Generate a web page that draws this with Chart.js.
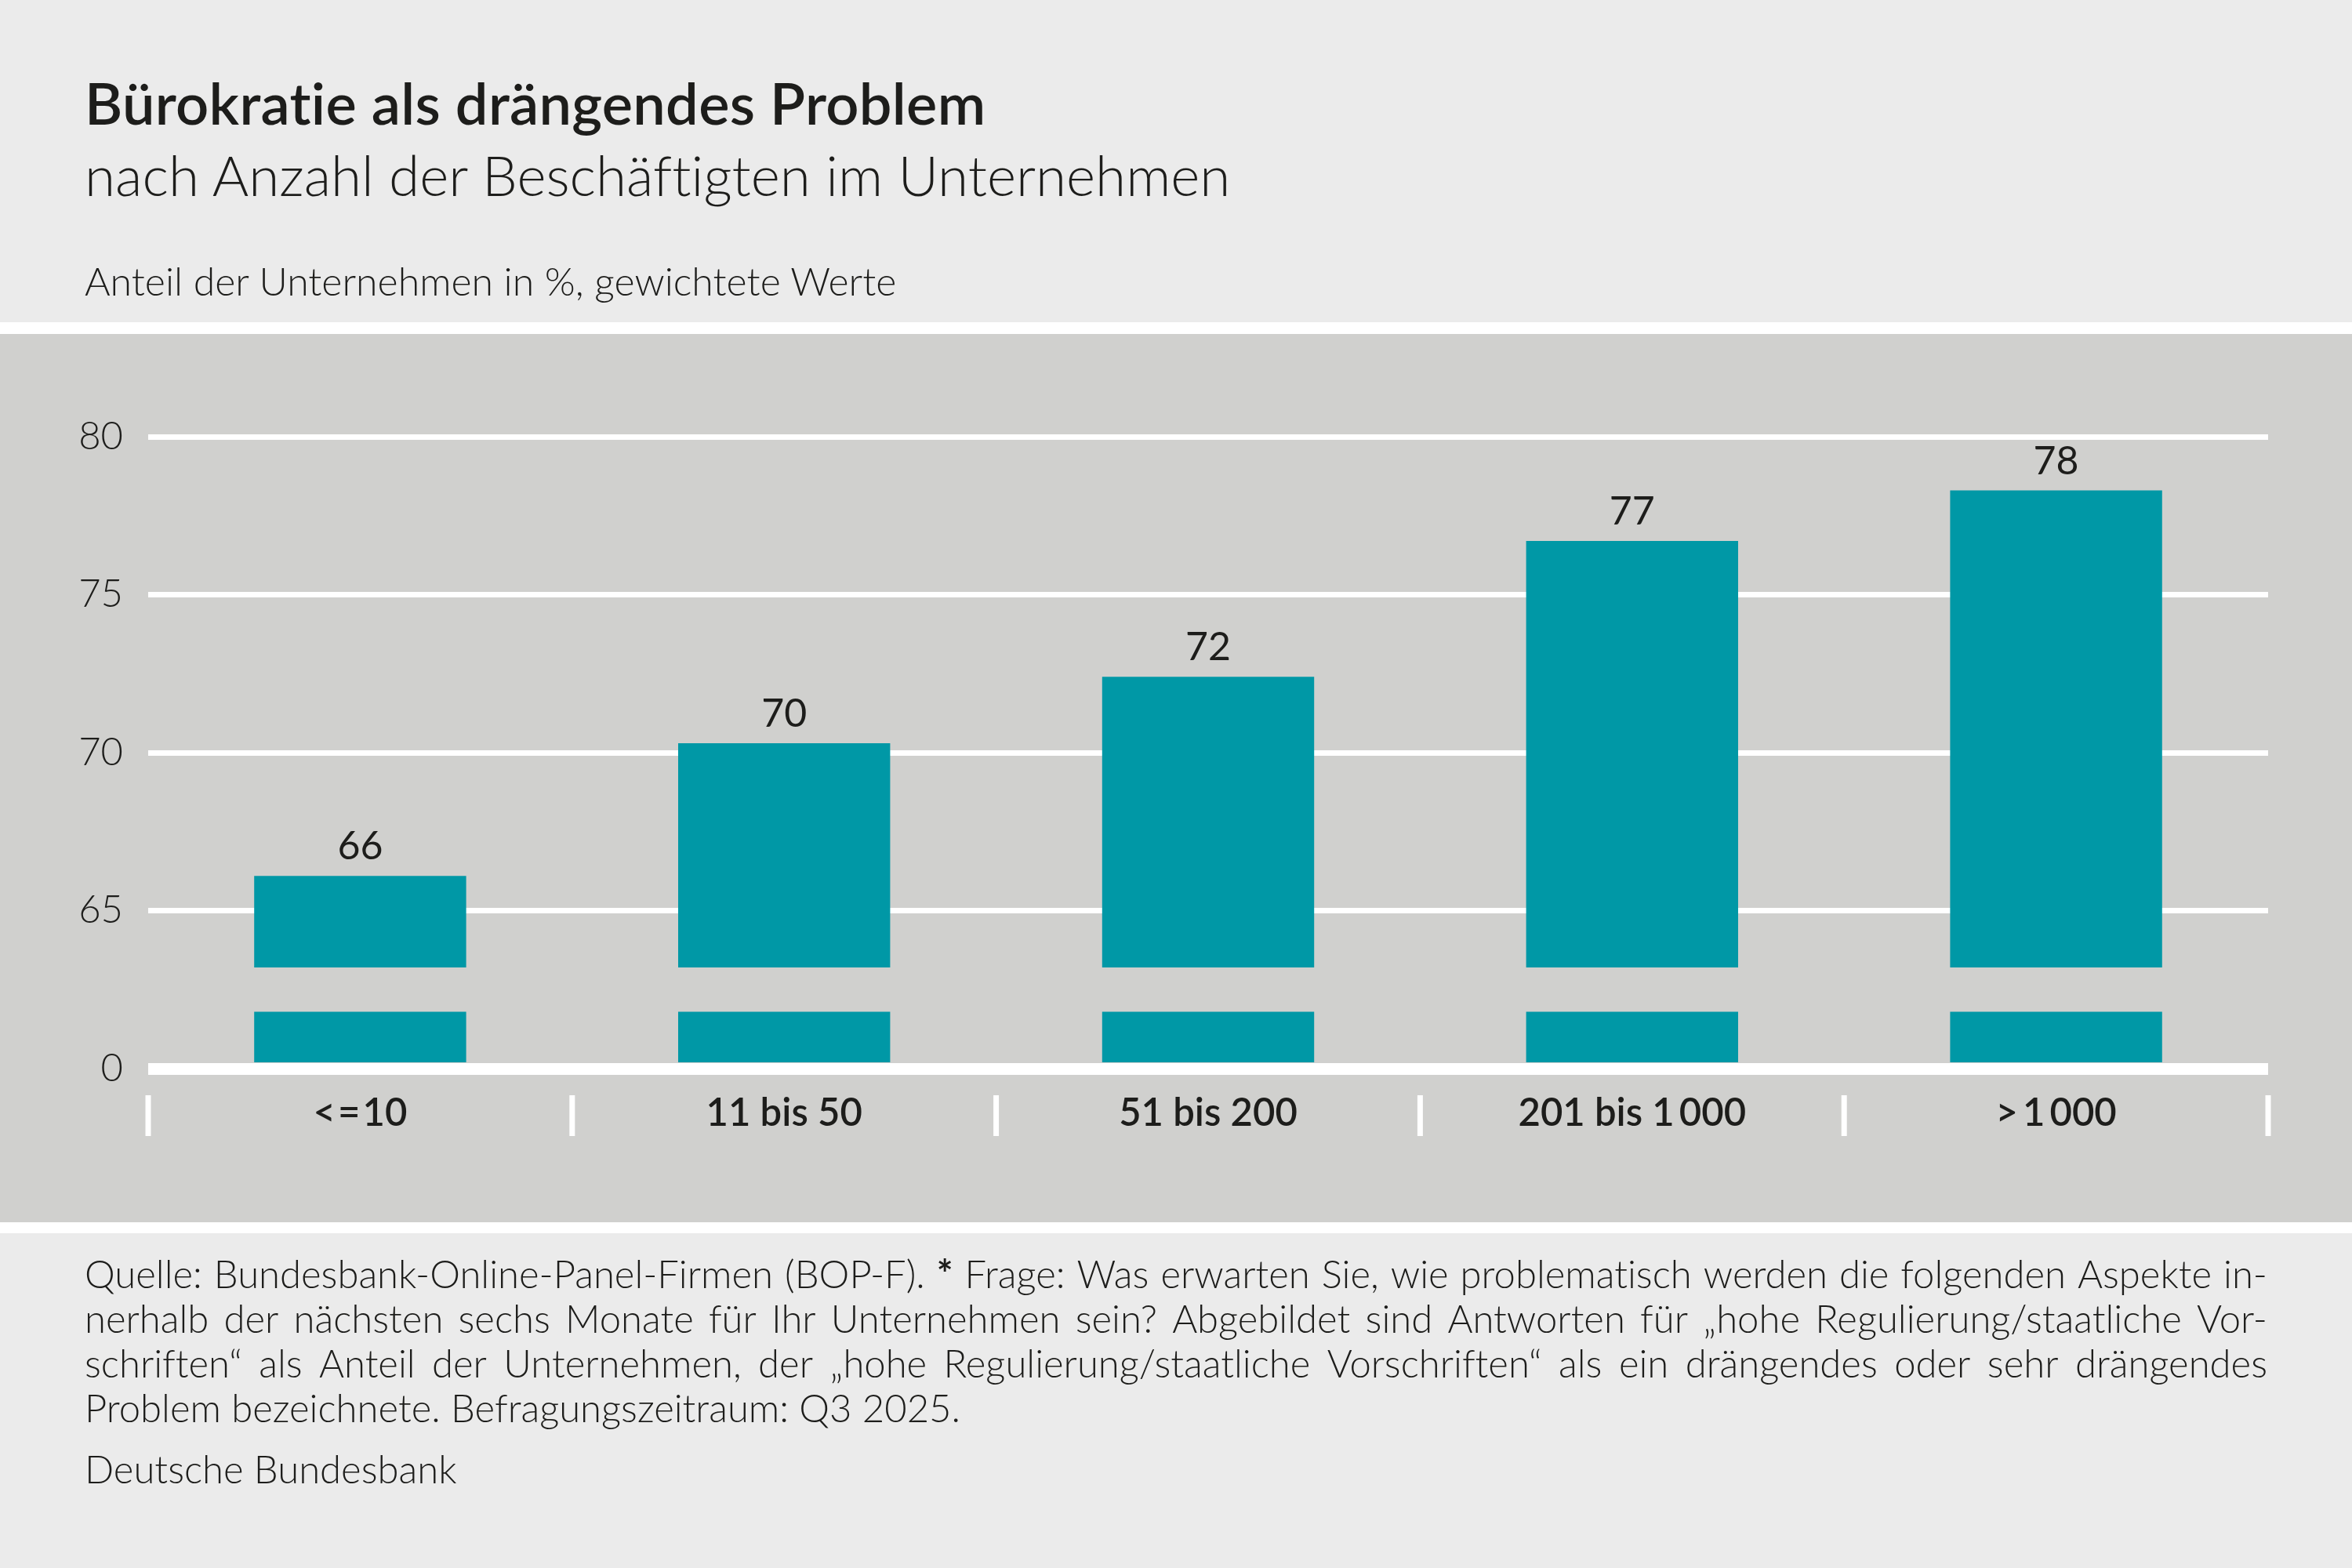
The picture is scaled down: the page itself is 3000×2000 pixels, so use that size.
<!DOCTYPE html>
<html lang="de">
<head>
<meta charset="utf-8">
<title>Bürokratie als drängendes Problem</title>
<script src="https://cdn.jsdelivr.net/npm/chart.js@4.4.1/dist/chart.umd.min.js"></script>
<style>
  html, body { margin: 0; padding: 0; }
  body {
    width: 3000px; height: 2000px; position: relative; overflow: hidden;
    background: #ebebeb; color: #1d1d1b;
    font-family: Lato, "Open Sans", sans-serif;
    font-variant-ligatures: none;
  }
  .txt { position: absolute; left: 108px; white-space: nowrap; line-height: 1; }
  #title { top: 94px; font-size: 74px; font-weight: 600; letter-spacing: 0.3px; }
  #subtitle { top: 187px; font-size: 71px; font-weight: 300; }
  #unit { top: 333px; font-size: 50px; font-weight: 300; }
  .band { position: absolute; left: 0; width: 3000px; background: #fff; }
  #panel { position: absolute; left: 0; top: 426px; width: 3000px; height: 1133px; background: #d0d0ce; }
  #notes { position: absolute; left: 108px; top: 1596px; width: 2784px; font-size: 49px; font-weight: 300; line-height: 57px; }
  #notes .line { display: flex; justify-content: space-between; white-space: nowrap; }
  #notes .last { white-space: nowrap; }
  #notes b { font-weight: 700; }
  #source { position: absolute; left: 108px; top: 1845px; font-size: 49px; font-weight: 300; line-height: 57px; white-space: nowrap; }
</style>
</head>
<body>
<div id="title" class="txt">Bürokratie als drängendes Problem</div>
<div id="subtitle" class="txt">nach Anzahl der Beschäftigten im Unternehmen</div>
<div id="unit" class="txt">Anteil der Unternehmen in %, gewichtete Werte</div>
<div class="band" style="top:411px;height:15px"></div>
<div id="panel"><canvas id="chart" width="3000" height="1133"></canvas></div>
<div class="band" style="top:1559px;height:14px"></div>
<div id="notes"></div>
<div id="source">Deutsche Bundesbank</div>

<script>
// categories and values (share of firms in %, weighted)
const categories = ['<\u200A=\u200A10', '11 bis 50', '51 bis 200', '201 bis 1\u2009000', '>\u20091\u2009000'];
const shares = [66.1, 70.3, 72.4, 76.7, 78.3];

// y axis is broken: 60 on the drawn scale stands for 0
const yTicks = [60, 65, 70, 75, 80];
const yTickLabels = ['0', '65', '70', '75', '80'];
const axisZero = 60;
const stubRange = [60.2, 61.8];
const breakTop = 63.2;

const noteLines = [
  'Quelle: Bundesbank-Online-Panel-Firmen (BOP-F). * Frage: Was erwarten Sie, wie problematisch werden die folgenden Aspekte in-',
  'nerhalb der nächsten sechs Monate für Ihr Unternehmen sein? Abgebildet sind Antworten für \u201Ehohe Regulierung/staatliche Vor-',
  'schriften\u201C als Anteil der Unternehmen, der \u201Ehohe Regulierung/staatliche Vorschriften\u201C als ein drängendes oder sehr drängendes',
  'Problem bezeichnete. Befragungszeitraum: Q3 2025.'
];

// footnote, justified line by line like the original
const notes = document.getElementById('notes');
noteLines.forEach((line, i) => {
  const div = document.createElement('div');
  if (i < noteLines.length - 1) {
    div.className = 'line';
    line.split(' ').forEach(word => {
      const el = document.createElement(word === '*' ? 'b' : 'span');
      el.textContent = word;
      div.appendChild(el);
    });
  } else {
    div.className = 'last';
    div.textContent = line;
  }
  notes.appendChild(div);
});

const textColor = '#1d1d1b';
const teal = '#0098a6';

const valueLabels = {
  id: 'valueLabels',
  afterDatasetsDraw(chart) {
    const ctx = chart.ctx;
    const meta = chart.getDatasetMeta(0);
    ctx.save();
    ctx.font = '400 50px Lato';
    ctx.fillStyle = textColor;
    ctx.textAlign = 'center';
    ctx.textBaseline = 'alphabetic';
    meta.data.forEach((bar, i) => {
      ctx.fillText(String(Math.round(shares[i])), bar.x, bar.y - 21);
    });
    ctx.restore();
  }
};

// small white separators between the categories
const catSeparators = {
  id: 'catSeparators',
  afterDraw(chart) {
    const x = chart.scales.x;
    const ctx = chart.ctx;
    const bottom = chart.chartArea.bottom;
    const step = x.width / categories.length;
    ctx.save();
    ctx.strokeStyle = '#ffffff';
    ctx.lineWidth = 7;
    for (let i = 0; i <= categories.length; i++) {
      const px = x.left + i * step;
      ctx.beginPath();
      ctx.moveTo(px, bottom + 34);
      ctx.lineTo(px, bottom + 86);
      ctx.stroke();
    }
    ctx.restore();
  }
};

const barStyle = {
  backgroundColor: teal,
  borderWidth: 0,
  grouped: false,
  barPercentage: 0.5,
  categoryPercentage: 1.0
};

new Chart(document.getElementById('chart'), {
  type: 'bar',
  data: {
    labels: categories,
    datasets: [
      Object.assign({ label: 'Anteil', data: shares.map(v => [breakTop, v]) }, barStyle),
      Object.assign({ label: 'Sockel', data: shares.map(() => stubRange.slice()) }, barStyle)
    ]
  },
  options: {
    responsive: false,
    devicePixelRatio: 1,
    animation: false,
    layout: { padding: { top: 131, right: 107, bottom: 0, left: 0 } },
    plugins: {
      legend: { display: false },
      tooltip: { enabled: false }
    },
    scales: {
      x: {
        afterFit: s => { s.height = 196; },
        border: { display: false },
        grid: { display: false, drawTicks: false },
        ticks: {
          padding: 28,
          autoSkip: false,
          maxRotation: 0,
          color: textColor,
          font: { family: 'Lato', size: 49, weight: 600 }
        }
      },
      y: {
        min: 60,
        max: 80,
        afterBuildTicks: s => { s.ticks = yTicks.map(v => ({ value: v })); },
        afterFit: s => { s.width = 189; },
        border: { display: false },
        grid: {
          color: '#ffffff',
          drawTicks: false,
          lineWidth: c => (c.tick && c.tick.value === axisZero ? 15 : 7)
        },
        ticks: {
          padding: 32,
          color: textColor,
          font: { family: 'Lato', size: 49, weight: 300 },
          callback: (v, i) => yTickLabels[i]
        }
      }
    }
  },
  plugins: [valueLabels, catSeparators]
});
</script>
</body>
</html>
